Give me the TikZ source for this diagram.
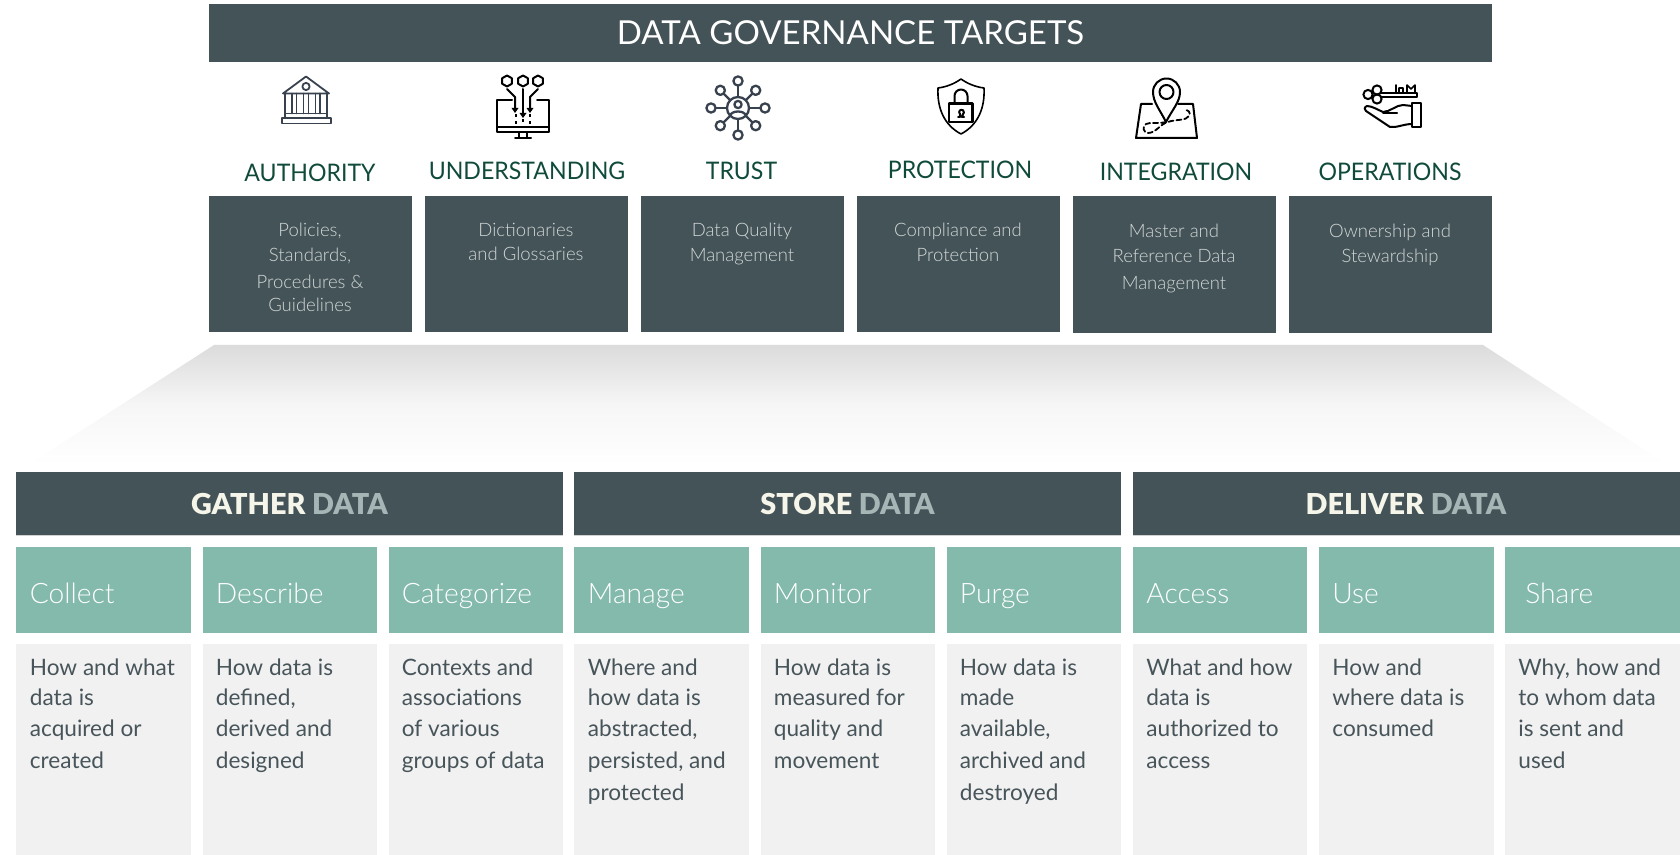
\documentclass[tikz,border=0pt]{standalone}
\usepackage{fontspec}
\setmainfont{Lato}
\newfontfamily\lightf{Lato Light}
\newfontfamily\headf{Lato Black}
\newfontfamily\labelf[FakeStretch=0.955]{Lato}
\definecolor{slate}{HTML}{445357}
\definecolor{tealb}{HTML}{83BAAB}
\definecolor{paleb}{HTML}{F1F1F1}
\definecolor{labelg}{HTML}{0F4A3A}
\definecolor{subt}{HTML}{D3D8D8}
\definecolor{bodyt}{HTML}{47555A}
\definecolor{headA}{HTML}{F6F5E9}
\definecolor{headB}{HTML}{A6B5B5}
\definecolor{iconA}{HTML}{38424E}
\tikzset{
  slatebox/.style={fill=slate,draw=none},
  tealbox/.style={fill=tealb,draw=none},
  palebox/.style={fill=paleb,draw=none},
  titletext/.style={white,font=\fontsize{16.5}{20}\selectfont,inner sep=0},
  targetlabel/.style={labelg,font=\labelf\fontsize{12.1}{15}\selectfont,inner sep=0},
  subtext/.style={subt,align=center,inner sep=0,font=\lightf\fontsize{9.25}{12.5}\selectfont},
  headtext/.style={inner sep=0,font=\headf\fontsize{14.4}{16}\selectfont},
  verb/.style={white,anchor=base west,inner sep=0,font=\lightf\fontsize{14.1}{17}\selectfont},
  desc/.style={bodyt,anchor=north west,align=left,inner sep=0,font=\fontsize{11.3}{16}\selectfont},
  icon/.style={line width=1pt,line cap=round,line join=round,fill=none},
}
\begin{document}
\begin{tikzpicture}[x=0.5pt,y=-0.5pt]
\useasboundingbox (0,0) rectangle (1680,855);
% banner
\fill[slatebox] (209,4) rectangle (1492,62);
\node[titletext] (title) at (850.5,33) {DATA GOVERNANCE TARGETS};
% target boxes
\foreach \a/\b/\c in {209/412/332,425/628/332,641/844/332,857/1060/332,1073/1276/333,1289/1492/333}
  \fill[slatebox] (\a,196) rectangle (\b,\c);
\node[targetlabel] (t1) at (310,173) {AUTHORITY};
\node[targetlabel] (t2) at (527,171) {UNDERSTANDING};
\node[targetlabel] (t3) at (741.5,171) {TRUST};
\node[targetlabel] (t4) at (960,170) {PROTECTION};
\node[targetlabel] (t5) at (1176,172) {INTEGRATION};
\node[targetlabel] (t6) at (1390,172) {OPERATIONS};
\node[subtext,anchor=north] (s1) at (310,223) {Policies,\\[-0.4pt]Standards,\\[1pt]Procedures \&\\[-1pt]Guidelines};
\node[subtext,anchor=north] (s2) at (526,223) {Dictionaries\\[-0.4pt]and Glossaries};
\node[subtext,anchor=north] (s3) at (742,223) {Data Quality\\[-0.4pt]Management};
\node[subtext,anchor=north] (s4) at (958,223) {Compliance and\\[-0.4pt]Protection};
\node[subtext,anchor=north] (s5) at (1174,224) {Master and\\[-0.4pt]Reference Data\\[1pt]Management};
\node[subtext,anchor=north] (s6) at (1390,224) {Ownership and\\[-0.4pt]Stewardship};
% funnel
\shade[top color=black!14,bottom color=white,middle color=black!3.5] (214,345) -- (1483,345) -- (1668,465) -- (28,465) -- cycle;
% section headers
\foreach \a/\b in {16/563,574/1121,1132.5/1680}{
  \fill[black!18] (\a,535) rectangle (\b,536);
  \fill[slatebox] (\a,472) rectangle (\b,535);
}
\node[headtext] (h1) at (289.5,504.5) {\textcolor{headA}{GATHER} \textcolor{headB}{DATA}};
\node[headtext] (h2) at (847.5,504.5) {\textcolor{headA}{STORE} \textcolor{headB}{DATA}};
\node[headtext] (h3) at (1406,504.5) {\textcolor{headA}{DELIVER} \textcolor{headB}{DATA}};
% columns
\foreach \a/\b in {16/191,202.5/377,388.5/563,574/749,760.5/935,946.5/1121,1132.5/1307,1319/1494,1504.5/1680}{
  \fill[tealbox] (\a,547) rectangle (\b,632.5);
  \fill[palebox] (\a,644) rectangle (\b,855);
}
\node[verb] (v1) at (29.5,603) {Collect};
\node[verb] (v2) at (215.5,603) {Describe};
\node[verb] (v3) at (401.5,603) {Categorize};
\node[verb] (v4) at (587.5,603) {Manage};
\node[verb] (v5) at (773.5,603) {Monitor};
\node[verb] (v6) at (959.5,603) {Purge};
\node[verb] (v7) at (1146,603) {Access};
\node[verb] (v8) at (1332,603) {Use};
\node[verb] (v9) at (1525,603) {Share};
\node[desc] (d1) at (29.5,658.5) {How and what\\[-1pt]data is\\[-0.5pt]acquired or\\created};
\node[desc] (d2) at (215.5,658.5) {How data is\\[-1pt]defined,\\[-0.5pt]derived and\\designed};
\node[desc] (d3) at (401.5,658.5) {Contexts and\\[-1pt]associations\\[-0.5pt]of various\\groups of data};
\node[desc] (d4) at (587.5,658.5) {Where and\\[-1pt]how data is\\[-0.5pt]abstracted,\\persisted, and\\protected};
\node[desc] (d5) at (773.5,658.5) {How data is\\[-1pt]measured for\\[-0.5pt]quality and\\movement};
\node[desc] (d6) at (959.5,658.5) {How data is\\[-1pt]made\\[-0.5pt]available,\\archived and\\destroyed};
\node[desc] (d7) at (1146,658.5) {What and how\\[-1pt]data is\\[-0.5pt]authorized to\\access};
\node[desc] (d8) at (1332,658.5) {How and\\[-1pt]where data is\\[-0.5pt]consumed};
\node[desc] (d9) at (1518,658.5) {Why, how and\\[-1pt]to whom data\\[-0.5pt]is sent and\\used};
% icon: authority
\begin{scope}[icon,iconA,line width=0.9pt]
\draw (283,93.5) -- (306,76.5) -- (329,93.5) -- cycle;
\draw (306,86.5) circle (3.6);
\foreach \x in {288.5,300,312,323.5}
  \draw (\x-3.5,93.5) -- (\x-3.5,113.5) (\x+3.5,93.5) -- (\x+3.5,113.5);
\draw (285,113.5) rectangle (327,118);
\draw (282,118) rectangle (331,123.5);
\end{scope}
% icon: understanding
\begin{scope}[icon,black]
\foreach \x in {507,523,538}
  \draw (\x,75.5) -- (\x+4.8,78.2) -- (\x+4.8,83.8) -- (\x,86.5) -- (\x-4.8,83.8) -- (\x-4.8,78.2) -- cycle;
\draw (512,100) -- (497,100) -- (497,132) -- (549,132) -- (549,100) -- (537,100);
\draw (497,127) -- (549,127);
\draw (519,132) -- (519,137) (527,132) -- (527,137) (515,138) -- (531,138);
\draw (507,89) -- (515,97) -- (515,109);
\draw (523,89) -- (523,114);
\draw (538,89) -- (530,97) -- (530,109);
\fill (511.5,108) -- (518.5,108) -- (515,113) -- cycle;
\fill (519.5,113) -- (526.5,113) -- (523,118) -- cycle;
\fill (526.5,108) -- (533.5,108) -- (530,113) -- cycle;
\draw[dash pattern=on 1.5pt off 2pt,line cap=butt] (516,114) -- (516,124);
\draw[dash pattern=on 1.5pt off 2pt,line cap=butt] (523,119) -- (523,125);
\draw[dash pattern=on 1.5pt off 2pt,line cap=butt] (530,114) -- (530,124);
\end{scope}
% icon: trust
\begin{scope}[icon,iconA,line width=1.15pt]
\draw (738,108) circle (11);
\draw (738,104.5) circle (3.6);
\draw (730,116) .. controls (731,110) and (745,110) .. (746,116);
\foreach \a in {0,90,180,270}{
  \draw (738,108)++(\a:11) -- ++(\a:11.5);
  \draw (738,108)++(\a:27) circle (4.6);
}
\foreach \a in {45,135,225,315}{
  \draw (738,108)++(\a:11) -- ++(\a:9.5);
  \draw (738,108)++(\a:25) circle (4.6);
}
\end{scope}
% icon: protection
\begin{scope}[icon,black,line width=0.8pt]
\draw (961,79) .. controls (968,84) and (976,87) .. (984,88) .. controls (985,108) and (978,125) .. (961,134) .. controls (944,125) and (937,108) .. (938,88) .. controls (946,87) and (954,84) .. (961,79) -- cycle;
\draw[line width=1.1pt] (949,103.5) rectangle (972.5,122);
\draw[line width=1pt] (954.5,103.5) -- (954.5,96) arc (180:360:6.5) -- (967.5,103.5);
\draw[line width=1pt] (958,117) -- (960,117) -- (960,114) arc (130:410:2.4) -- (962,117) -- (964,117);
\end{scope}
% icon: integration
\begin{scope}[icon,black]
\draw (1152,104) -- (1141,104) -- (1136,138) -- (1197,138) -- (1193,104) -- (1178,104);
\draw (1166,122) .. controls (1160,110) and (1153,102) .. (1153,92) arc (180:360:13.5) .. controls (1180,102) and (1172,110) .. (1166,122) -- cycle;
\draw (1166.5,92) circle (7);
\draw[dash pattern=on 2.5pt off 1.5pt,line width=0.9pt] (1166,122) .. controls (1158,124) and (1150,122) .. (1146,124) .. controls (1142,127) and (1143,132) .. (1148,133) .. controls (1156,133) and (1160,124) .. (1168,122) .. controls (1176,119) and (1186,121) .. (1189,116) .. controls (1191,112) and (1188,110) .. (1185,110);
\end{scope}
% icon: operations
\begin{scope}[icon,black]
\draw (1377,90) circle (4.6);
\draw (1368,94.5) circle (4.6);
\draw (1377,99) circle (4.6);
\draw (1381,93) -- (1417,93) -- (1417,97) -- (1381,97);
\draw[line width=0.8pt] (1396,93) -- (1396,85) (1399,93) -- (1399,88) -- (1403,88) -- (1403,93) (1407,93) -- (1407,85) -- (1411,89) -- (1415,85) -- (1415,93);
\draw (1412,103) rectangle (1421,127);
\draw (1412,106) -- (1403,105) .. controls (1396,105) and (1390,112) .. (1383,112) .. controls (1378,110) and (1372,106) .. (1367,106) .. controls (1364,107) and (1364,110) .. (1366,111) -- (1390,127) .. controls (1396,128) and (1404,124) .. (1412,124);
\draw (1383,113) -- (1397,113);
\end{scope}
\end{tikzpicture}
\end{document}
